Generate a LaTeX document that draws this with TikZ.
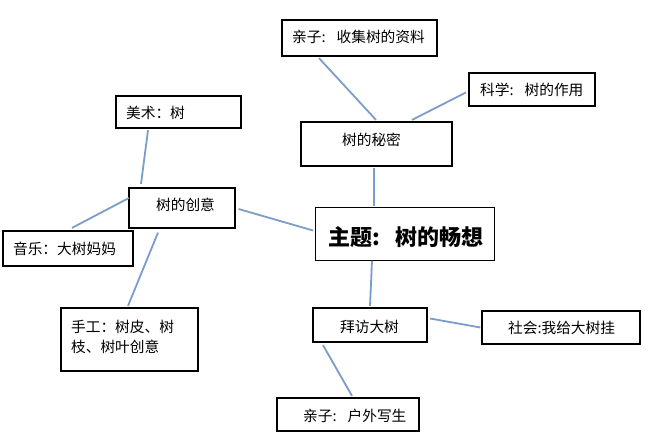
\documentclass[tikz,border=0pt]{standalone}
\usepackage{fontspec}
\setmainfont{Noto Sans CJK SC}
\definecolor{linkblue}{RGB}{122,158,200}
\tikzset{
  box/.style={draw=black, line width=2.2pt, inner sep=0pt, fill=white},
  mainbox/.style={draw=black, line width=0.9pt, inner sep=0pt, fill=white},
  txt/.style={inner sep=0pt, anchor=west, font=\fontsize{14.7pt}{20pt}\selectfont, align=left},
  title/.style={inner sep=0pt, anchor=west, font=\fontsize{22pt}{24pt}\selectfont\bfseries},
  link/.style={draw=linkblue, line width=1.8pt}
}
\begin{document}
\begin{tikzpicture}[x=1pt,y=-1pt]
\useasboundingbox[fill=white] (0,0) rectangle (648,440);
% boxes
\node[box, minimum width=155pt, minimum height=36pt] (qz1) at (359.5,38) {};
\node[box, minimum width=126pt, minimum height=33pt] (kx) at (532,89.5) {};
\node[box, minimum width=151pt, minimum height=44pt] (mm) at (376.5,144) {};
\node[box, minimum width=125pt, minimum height=32pt] (ms) at (178.5,112) {};
\node[box, minimum width=106pt, minimum height=40pt] (cy) at (182,208) {};
\node[box, minimum width=130pt, minimum height=35pt] (yy) at (68,248.5) {};
\node[box, minimum width=137pt, minimum height=63pt] (sg) at (129.5,339.5) {};
\node[mainbox, minimum width=179pt, minimum height=53pt] (zt) at (405,234) {};
\node[box, minimum width=114pt, minimum height=34pt] (bf) at (370,325) {};
\node[box, minimum width=158pt, minimum height=33pt] (sh) at (561,327.5) {};
\node[box, minimum width=142pt, minimum height=33pt] (qz2) at (348,414.5) {};
% texts
\node[txt] (qz1t) at ([xshift=11pt,yshift=1.5pt]qz1.west) {亲子:\hspace{0.75em}收集树的资料};
\node[txt] (kxt) at ([xshift=12pt]kx.west) {科学:\hspace{0.75em}树的作用};
\node[txt] (mmt) at ([xshift=42pt,yshift=4pt]mm.west) {树的秘密};
\node[txt] (mst) at ([xshift=11pt,yshift=-1pt]ms.west) {美术：树};
\node[txt] (cyt) at ([xshift=28pt,yshift=3pt]cy.west) {树的创意};
\node[txt] (yyt) at ([xshift=11pt]yy.west) {音乐：大树妈妈};
\node[txt] (sgt) at ([xshift=11pt,yshift=3pt]sg.west) {手工：树皮、树\\枝、树叶创意};
\node[title] (ztt) at ([xshift=13pt,yshift=-3pt]zt.west) {主题:\hspace{0.7em}树的畅想};
\node[txt] (bft) at ([xshift=28pt,yshift=-1.5pt]bf.west) {拜访大树};
\node[txt] (sht) at ([xshift=27pt]sh.west) {社会:我给大树挂};
\node[txt] (qz2t) at ([xshift=27pt,yshift=-1pt]qz2.west) {亲子:\hspace{0.75em}户外写生};
% connectors
\draw[link] ([xshift=-40.5pt,yshift=-1pt]qz1.south) -- ([xshift=-0.5pt,yshift=1pt]mm.north);
\draw[link] ([xshift=-2pt,yshift=-3pt]kx.west) -- ([xshift=35.5pt,yshift=1pt]mm.north);
\draw[link] ([xshift=-2.5pt,yshift=-1pt]mm.south) -- ([xshift=-31pt,yshift=1pt]zt.north);
\draw[link] ([xshift=-30.5pt,yshift=-1pt]ms.south) -- ([xshift=-41pt,yshift=3pt]cy.north);
\draw[link] ([xshift=1pt,yshift=10pt]cy.west) -- ([xshift=4pt,yshift=2pt]yy.north);
\draw[link] ([xshift=-24pt,yshift=-3.5pt]cy.south) -- ([xshift=-1.5pt,yshift=1pt]sg.north);
\draw[link] ([xshift=2.5pt,yshift=-1pt]cy.east) -- ([xshift=-2pt,yshift=3.5pt]zt.west);
\draw[link] ([xshift=-33pt]zt.south) -- ([yshift=1pt]bf.north);
\draw[link] ([xshift=2pt,yshift=6.5pt]bf.east) -- ([xshift=-0.5pt]sh.west);
\draw[link] ([xshift=-47pt,yshift=-2pt]bf.south) -- ([xshift=4pt,yshift=1pt]qz2.north);
\end{tikzpicture}
\end{document}
